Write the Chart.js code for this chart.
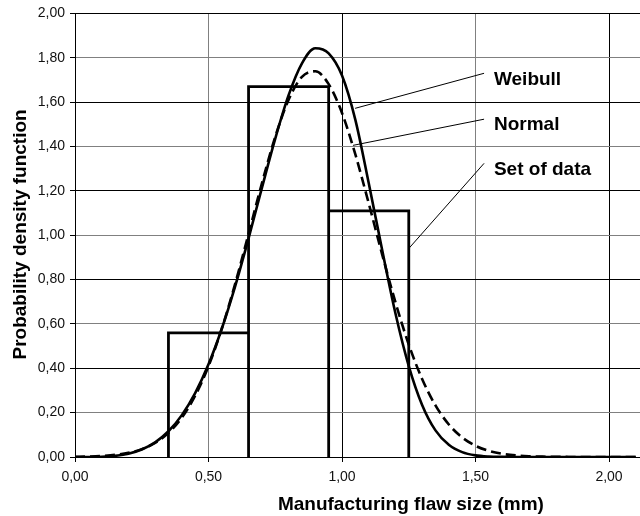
<!DOCTYPE html>
<html><head><meta charset="utf-8">
<script src="https://cdn.jsdelivr.net/npm/chart.js@4"></script>
<style>html,body{margin:0;padding:0;background:#fff;}</style>
</head><body>
<canvas id="c" width="640" height="516"></canvas>
<script>
// ---- data ----
const xValues = [0,0.05,0.10,0.15,0.20,0.25,0.30,0.35,0.40,0.45,0.50,0.55,0.60,0.65,0.70,0.75,0.80,0.85,0.90,0.95,1.00,1.05,1.10,1.15,1.20,1.25,1.30,1.35,1.40,1.45,1.50,1.55,1.60,1.65,1.70,1.75,1.80,1.85,1.90,1.95,2.00,2.05,2.10];
const weibullPdf = [0,0.0001,0.0011,0.0051,0.0148,0.0337,0.0659,0.1161,0.1888,0.2883,0.418,0.5795,0.7708,0.9858,1.2133,1.4355,1.6313,1.7748,1.8429,1.82,1.72,1.52,1.235,0.935,0.648,0.41,0.235,0.12,0.055,0.022,0.0074,0.002,0.0005,0.0001,0,0,0,0,0,0,0,0,0];
const normalPdf  = [0.0009,0.0021,0.0046,0.0095,0.0188,0.0354,0.0635,0.1087,0.1774,0.2761,0.4096,0.5796,0.782,1.006,1.234,1.444,1.611,1.714,1.739,1.681,1.551,1.364,1.144,0.915,0.698,0.507,0.352,0.2326,0.1467,0.0882,0.0506,0.0276,0.0144,0.0072,0.0034,0.0015,0.0006,0.0003,0.0001,0,0,0,0];
const binEdges   = [0.35,0.65,0.95,1.25];
const binHeights = [0.56,1.67,1.11];
const xTicks = [0,0.5,1.0,1.5,2.0];
const yTicks = [0,0.2,0.4,0.6,0.8,1.0,1.2,1.4,1.6,1.8,2.0];
const seriesNames = ['Weibull','Normal','Set of data'];
const xTitle = 'Manufacturing flaw size (mm)';
const yTitle = 'Probability density function';

// ---- build library structures ----
const weibullPts = xValues.map((x,i)=>({x, y: weibullPdf[i]}));
const normalPts  = xValues.map((x,i)=>({x, y: normalPdf[i]}));
const histPts = [];
binHeights.forEach((h,i)=>{
  if (i===0) histPts.push({x: binEdges[0], y: 0});
  histPts.push({x: binEdges[i], y: h});
  histPts.push({x: binEdges[i+1], y: h});
  histPts.push({x: binEdges[i+1], y: 0});
});

// callout layout (data units)
const callouts = [
  {name: seriesNames[0], tx: 1.569, ty: 1.676, from: [1.532,1.730], to: [1.049,1.572]},
  {name: seriesNames[1], tx: 1.569, ty: 1.473, from: [1.532,1.523], to: [1.041,1.405]},
  {name: seriesNames[2], tx: 1.569, ty: 1.270, from: [1.532,1.324], to: [1.250,0.940]}
];

const fmt = v => Number(v).toFixed(2).replace('.', ',');

const annotPlugin = {
  id: 'annot',
  afterDatasetsDraw(chart) {
    const {ctx, scales:{x, y}, chartArea} = chart;
    ctx.save();
    ctx.strokeStyle = '#000';
    ctx.lineWidth = 1;
    ctx.fillStyle = '#000';
    ctx.font = 'bold 19px "Liberation Sans", Arial, sans-serif';
    ctx.textBaseline = 'alphabetic';
    ctx.textAlign = 'left';
    callouts.forEach(c => {
      ctx.beginPath();
      ctx.moveTo(x.getPixelForValue(c.from[0]), y.getPixelForValue(c.from[1]));
      ctx.lineTo(x.getPixelForValue(c.to[0]), y.getPixelForValue(c.to[1]));
      ctx.stroke();
      ctx.fillText(c.name, x.getPixelForValue(c.tx), y.getPixelForValue(c.ty));
    });
    // axis titles
    ctx.textAlign = 'center';
    ctx.fillText(xTitle, x.getPixelForValue(1.258), chartArea.bottom + 53);
    ctx.translate(chartArea.left - 49, chartArea.top + 221);
    ctx.rotate(-Math.PI/2);
    ctx.textBaseline = 'alphabetic';
    ctx.fillText(yTitle, 0, 0);
    ctx.restore();
  }
};

new Chart(document.getElementById('c'), {
  type: 'line',
  data: {
    datasets: [
      {label: seriesNames[2], data: histPts, borderColor: '#000', borderWidth: 2.8, pointRadius: 0, tension: 0, borderJoinStyle: 'miter', fill: false},
      {label: seriesNames[1], data: normalPts, borderColor: '#000', borderWidth: 2.6, borderDash: [10,5], pointRadius: 0, cubicInterpolationMode: 'monotone', fill: false},
      {label: seriesNames[0], data: weibullPts, borderColor: '#000', borderWidth: 2.6, pointRadius: 0, cubicInterpolationMode: 'monotone', fill: false}
    ]
  },
  options: {
    responsive: false,
    animation: false,
    devicePixelRatio: 1,
    layout: {padding: {top: 13, right: 0, left: 0, bottom: 0}},
    plugins: {legend: {display: false}, tooltip: {enabled: false}},
    scales: {
      x: {
        type: 'linear', min: 0, max: 2.116,
        afterBuildTicks: s => { s.ticks = xTicks.map(v => ({value: v})); },
        afterFit: s => { s.height = 59; },
        grid: {color: c => (c.index % 2 === 0 ? '#000' : '#808080'), lineWidth: 1, tickLength: 5, tickColor: '#000'},
        border: {color: '#000', width: 1},
        ticks: {callback: fmt, color: '#111', padding: 7, maxRotation: 0, autoSkip: false, font: {family: '"Liberation Sans", Arial, sans-serif', size: 14}}
      },
      y: {
        type: 'linear', min: 0, max: 2.0,
        afterBuildTicks: s => { s.ticks = yTicks.map(v => ({value: v})); },
        afterFit: s => { s.width = 75; },
        grid: {color: c => (c.index % 2 === 0 ? '#000' : '#808080'), lineWidth: 1, tickLength: 5, tickColor: '#000'},
        border: {color: '#000', width: 1},
        ticks: {callback: fmt, color: '#111', padding: 5, font: {family: '"Liberation Sans", Arial, sans-serif', size: 14}}
      }
    }
  },
  plugins: [annotPlugin]
});
</script>
</body></html>
